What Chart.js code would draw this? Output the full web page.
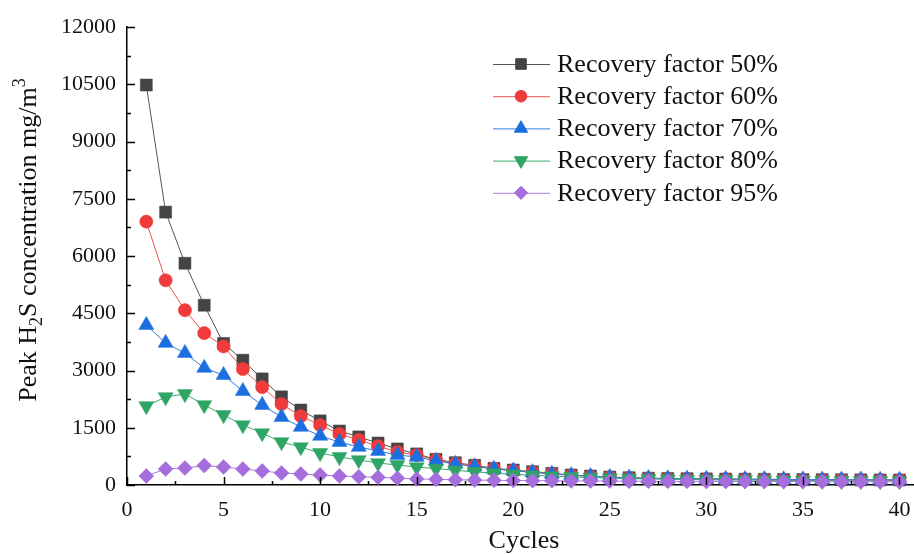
<!DOCTYPE html>
<html>
<head>
<meta charset="utf-8">
<script src="https://cdn.jsdelivr.net/npm/chart.js@4/dist/chart.umd.min.js"></script>
<style>
  html, body { margin: 0; padding: 0; background: #fff; }
  #wrap { width: 914px; height: 554px; position: relative; }
</style>
</head>
<body>
<div id="wrap"><canvas id="c" width="914" height="554"></canvas></div>
<script>
// ---- data ----
const cycles = [1,2,3,4,5,6,7,8,9,10,11,12,13,14,15,16,17,18,19,20,21,22,23,24,25,26,27,28,29,30,31,32,33,34,35,36,37,38,39,40];
const rf50 = [10480,7150,5810,4710,3710,3270,2780,2310,1965,1680,1415,1260,1100,945,815,673,584,516,437,393,348,306,262,236,209,191,178,170,165,160,156,152,149,145,142,139,137,135,133,131];
const rf60 = [6900,5365,4580,3980,3630,3040,2565,2120,1805,1570,1335,1180,1020,865,785,650,565,495,425,380,335,295,255,228,203,186,173,165,160,155,151,147,144,141,138,135,133,131,129,127];
const rf70 = [4190,3720,3455,3065,2880,2460,2095,1780,1520,1285,1125,995,890,785,735,630,550,485,420,375,332,292,255,230,205,190,178,170,165,160,156,152,149,146,143,140,138,136,134,132];
const rf80 = [2070,2305,2385,2095,1835,1570,1360,1125,995,840,735,655,575,525,470,430,385,345,310,280,255,232,212,195,180,168,158,150,143,137,132,127,123,119,116,113,110,108,106,104];
const rf95 = [236,420,445,510,470,420,367,315,288,262,236,215,200,180,160,148,138,130,123,118,114,110,107,104,102,100,98,96,95,94,93,92,91,90,89,88,87,86,85,84];
const seriesNames = ['Recovery factor 50%','Recovery factor 60%','Recovery factor 70%','Recovery factor 80%','Recovery factor 95%'];
const xTickValues = [0,5,10,15,20,25,30,35,40];
const yTickValues = [0,1500,3000,4500,6000,7500,9000,10500,12000];

const FONT = "'Liberation Serif', 'Times New Roman', serif";

const styles = [
  {fill:'#444444', line:'#555555', shape:'rect', r:8.5, rot:0},
  {fill:'#ef3b3b', line:'#f05252', shape:'circle', r:6.6, rot:0},
  {fill:'#1c6fe0', line:'#2f7be3', shape:'triangle', r:8.7, rot:0},
  {fill:'#2ea565', line:'#3aaa6d', shape:'triangle', r:8.7, rot:180},
  {fill:'#a66ddc', line:'#ad7ae0', shape:'rectRot', r:7.5, rot:0}
];
const allSeries = [rf50, rf60, rf70, rf80, rf95];

const datasets = allSeries.map((vals, i) => ({
  label: seriesNames[i],
  data: cycles.map((c, k) => ({x: c, y: vals[k]})),
  borderColor: styles[i].line,
  backgroundColor: styles[i].fill,
  borderWidth: 1,
  pointStyle: styles[i].shape,
  pointRotation: styles[i].rot,
  pointRadius: styles[i].r,
  pointHoverRadius: styles[i].r,
  pointBackgroundColor: styles[i].fill,
  pointBorderColor: styles[i].fill,
  pointBorderWidth: 0.5,
  tension: 0,
  clip: false,
  order: 4 - i
}));

const decor = {
  id: 'decor',
  afterDraw(chart) {
    const ctx = chart.ctx;
    const xs = chart.scales.x, ys = chart.scales.y;
    const area = chart.chartArea;
    ctx.save();
    ctx.strokeStyle = '#000';
    ctx.lineWidth = 1.5;
    // inward ticks
    ctx.beginPath();
    for (let v = 0; v <= 12000; v += 750) {
      const y = Math.round(ys.getPixelForValue(v)) + 0.5;
      const len = (v % 1500 === 0) ? 8 : 4;
      ctx.moveTo(area.left, y); ctx.lineTo(area.left + len, y);
    }
    for (let v = 0; v <= 40; v += 2.5) {
      const x = Math.round(xs.getPixelForValue(v)) + 0.5;
      const len = (v % 5 === 0) ? 8 : 4;
      ctx.moveTo(x, area.bottom); ctx.lineTo(x, area.bottom - len);
    }
    ctx.stroke();

    // axis titles
    ctx.fillStyle = '#111';
    ctx.textBaseline = 'alphabetic';
    ctx.font = '26px ' + FONT;
    ctx.textAlign = 'center';
    ctx.fillText('Cycles', 524, 548);

    // y title with sub/superscript
    const big = '26px ' + FONT, small = '18px ' + FONT;
    const parts = [
      {t:'Peak H', f:big, dy:0},
      {t:'2', f:small, dy:6},
      {t:'S concentration mg/m', f:big, dy:0},
      {t:'3', f:small, dy:-11}
    ];
    let total = 0;
    parts.forEach(p => { ctx.font = p.f; p.w = ctx.measureText(p.t).width; total += p.w; });
    ctx.translate(36, 240);
    ctx.rotate(-Math.PI / 2);
    ctx.textAlign = 'left';
    let cx = -total / 2;
    parts.forEach(p => { ctx.font = p.f; ctx.fillText(p.t, cx, p.dy); cx += p.w; });
    ctx.setTransform(1,0,0,1,0,0);

    // legend
    const rows = [64, 96.2, 128.4, 160.6, 192.8];
    chart.data.datasets.forEach((ds, i) => {
      const y = rows[i];
      ctx.strokeStyle = ds.borderColor;
      ctx.lineWidth = 1;
      ctx.beginPath();
      ctx.moveTo(493, y + 0.5); ctx.lineTo(550, y + 0.5);
      ctx.stroke();
      ctx.fillStyle = ds.pointBackgroundColor;
      ctx.strokeStyle = ds.pointBorderColor;
      Chart.helpers.drawPoint(ctx, {pointStyle: ds.pointStyle, rotation: ds.pointRotation, radius: ds.pointRadius * 0.88, borderWidth: 0.5}, 521, y);
      ctx.fillStyle = '#111';
      ctx.font = '26px ' + FONT;
      ctx.textAlign = 'left';
      ctx.textBaseline = 'middle';
      ctx.fillText(ds.label, 557, y + 1);
    });
    ctx.restore();
  }
};

new Chart(document.getElementById('c'), {
  type: 'line',
  data: { datasets },
  options: {
    responsive: false,
    animation: false,
    layout: { autoPadding: false, padding: { top: 27, right: 1, bottom: 0, left: 0 } },
    plugins: { legend: { display: false }, tooltip: { enabled: false } },
    scales: {
      x: {
        type: 'linear', min: 0, max: 40.7,
        afterBuildTicks: s => { s.ticks = xTickValues.map(v => ({value: v})); },
        afterFit: s => { s.height = 69; s.paddingLeft = 0; s.paddingRight = 0; },
        grid: { display: false, drawTicks: false },
        border: { display: true, color: '#000', width: 1.5 },
        ticks: { color: '#111', font: { family: FONT, size: 22 }, padding: 12, maxRotation: 0,
                 callback: v => String(v) }
      },
      y: {
        min: 0, max: 12000,
        afterBuildTicks: s => { s.ticks = yTickValues.map(v => ({value: v})); },
        afterFit: s => { s.width = 127; s.paddingTop = 0; s.paddingBottom = 0; },
        grid: { display: false, drawTicks: false },
        border: { display: true, color: '#000', width: 1.5 },
        ticks: { color: '#111', font: { family: FONT, size: 22 }, padding: 11,
                 callback: v => String(v) }
      }
    }
  },
  plugins: [decor]
});
</script>
</body>
</html>
